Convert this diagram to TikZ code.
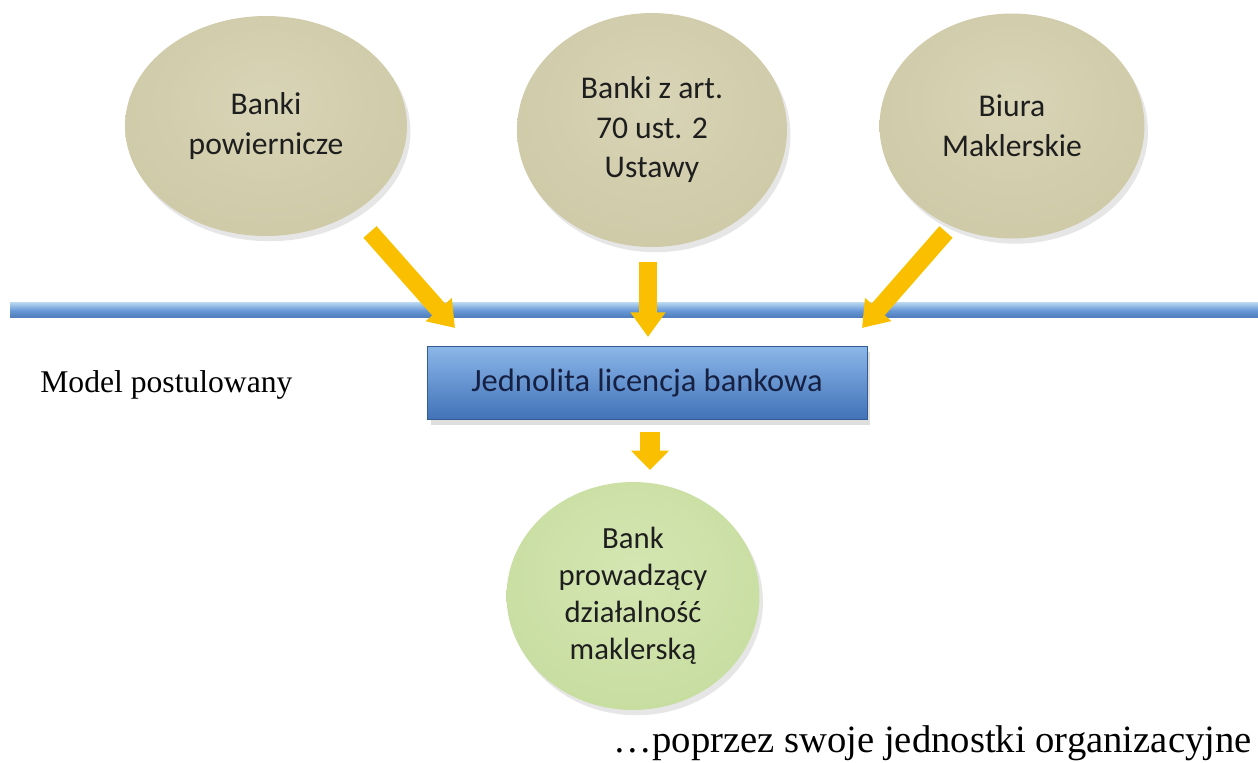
\documentclass[tikz,border=0pt]{standalone}
\usepackage{fontspec}
\setmainfont{Liberation Serif}
\newfontfamily\calibri{Carlito}
\usetikzlibrary{shapes.geometric,arrows.meta,shadows}

\definecolor{beigelight}{RGB}{216,212,182}
\definecolor{beigemid}{RGB}{205,200,165}
\definecolor{beigedark}{RGB}{180,174,134}
\definecolor{greenlight}{RGB}{212,230,178}
\definecolor{greenmid}{RGB}{198,220,158}
\definecolor{greendark}{RGB}{170,198,126}
\definecolor{boxtop}{RGB}{138,182,232}
\definecolor{boxbot}{RGB}{66,114,184}
\definecolor{boxtext}{RGB}{22,32,66}
\definecolor{linetop}{RGB}{178,210,238}
\definecolor{linemid}{RGB}{104,152,214}
\definecolor{linebot}{RGB}{78,122,186}
\definecolor{gold}{RGB}{250,192,0}
\definecolor{circtext}{RGB}{30,30,30}

\pgfdeclareradialshading{beigeball}{\pgfpoint{0bp}{6bp}}{color(0bp)=(beigelight); color(34bp)=(beigemid); color(49bp)=(beigedark); color(100bp)=(beigedark)}
\pgfdeclareradialshading{greenball}{\pgfpoint{0bp}{6bp}}{color(0bp)=(greenlight); color(34bp)=(greenmid); color(49bp)=(greendark); color(100bp)=(greendark)}

\tikzset{
  bankball/.style={ellipse, inner sep=0pt, align=center, text=circtext,
    font=\calibri\fontsize{18}{22.5}\selectfont, shading=beigeball,
    drop shadow={opacity=0.2, shadow xshift=2pt, shadow yshift=-3pt}},
  resultball/.style={bankball, shading=greenball,
    font=\calibri\fontsize{17.5}{21}\selectfont},
  licencebox/.style={rectangle, minimum width=8.8cm, minimum height=1.46cm,
    top color=boxtop, bottom color=boxbot, draw=boxbot!80!black, line width=0.4pt,
    text=boxtext, font=\calibri\fontsize{18.5}{22}\selectfont,
    drop shadow={opacity=0.25, shadow xshift=2pt, shadow yshift=-3pt}},
  goldarrow/.style={draw=gold, line width=10pt,
    -{Triangle[width=19pt,length=14pt]}},
  smallarrow/.style={draw=gold, line width=11pt,
    -{Triangle[width=21pt,length=11pt]}},
  plaintext/.style={inner sep=0pt, text=black}
}

\begin{document}
\begin{tikzpicture}[x=0.02cm, y=-0.02cm]
\useasboundingbox (0,0) rectangle (1258,763);

% top row
\node[bankball, minimum width=5.64cm, minimum height=4.4cm] (trust) at (266,126) {Banki\\powiernicze};
\node[bankball, minimum width=5.4cm, minimum height=4.68cm] (art70) at (652,130) {Banki z art.\\70 ust. 2\\Ustawy};
\node[bankball, minimum width=5.3cm, minimum height=4.5cm] (broker) at (1012,126) {Biura\\Maklerskie};

% separating line
\shade[top color=linetop, bottom color=linebot, middle color=linemid]
  (10,303) rectangle (1258,318);

\node[licencebox] (licence) at (647,383) {Jednolita licencja bankowa};
\node[plaintext, anchor=base west, font=\fontsize{18}{22}\selectfont] (model) at (40,393) {Model postulowany};

\node[resultball, minimum width=5.06cm, minimum height=4.56cm] (bank) at (633,596)
  {Bank\\prowadzący\\działalność\\maklerską};
\node[plaintext, anchor=base east, font=\fontsize{22}{26}\selectfont] (units) at (1252,752)
  {…poprzez swoje jednostki organizacyjne};

% arrows
\coordinate (t1) at (370,232);
\coordinate (h1) at (455,328);
\coordinate (t2) at (648,262);
\coordinate (h2) at (648,337);
\coordinate (t3) at (946,232);
\coordinate (h3) at (862,328);
\coordinate (t4) at (650,432);
\coordinate (h4) at (650,470);
\draw[goldarrow] (t1) -- (h1);
\draw[goldarrow] (t2) -- (h2);
\draw[goldarrow] (t3) -- (h3);
\draw[smallarrow] (t4) -- (h4);
\end{tikzpicture}
\end{document}
